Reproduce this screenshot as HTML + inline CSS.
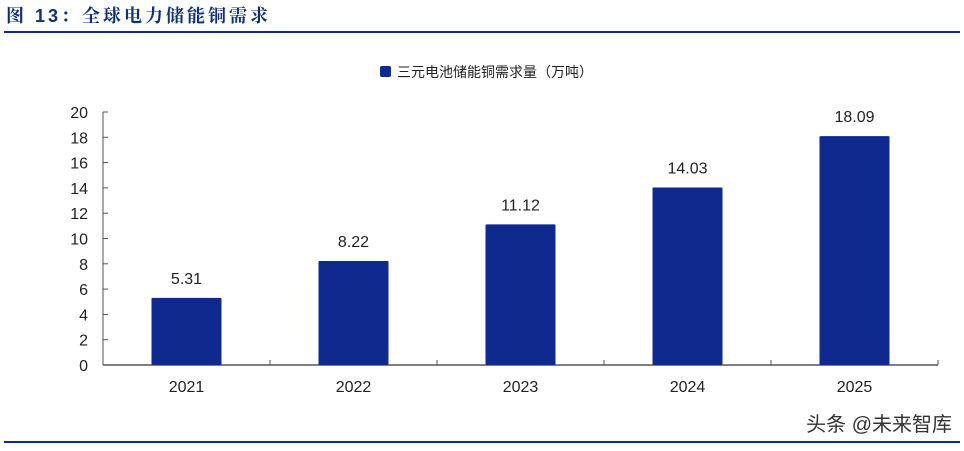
<!DOCTYPE html>
<html><head><meta charset="utf-8"><style>
body{margin:0;width:964px;height:446px;background:#fff;overflow:hidden;font-family:"Liberation Sans","Noto Sans CJK SC",sans-serif;}
</style></head><body>
<svg width="964" height="446">
<text x="6" y="22" font-size="18" font-weight="bold" fill="#0d2f7e" letter-spacing="3" font-family="Liberation Sans,Noto Serif CJK SC,Noto Sans CJK SC,sans-serif">图 13：全球电力储能铜需求</text>
<rect x="4" y="31" width="956" height="2" fill="#0d2f7e"/>
<g>
<rect x="380" y="66" width="11" height="11" rx="2" fill="#10298f"/>
<text x="397" y="77" font-size="14" fill="#222">三元电池储能铜需求量（万吨）</text>
</g>
<g id="axes"></g>
<g id="bars"></g>
<text x="952" y="431" font-size="20" fill="#333" text-anchor="end">头条 @未来智库</text>
<rect x="4" y="441" width="956" height="2" fill="#0d2f7e"/>
</svg>
<script>
const categories=["2021","2022","2023","2024","2025"];
const values=[5.31,8.22,11.12,14.03,18.09];
const valueLabels=["5.31","8.22","11.12","14.03","18.09"];
const yTicks=[0,2,4,6,8,10,12,14,16,18,20];
const NS="http://www.w3.org/2000/svg";
const x0=103,x1=938,y0=365,y1=112,yMax=20;
const band=(x1-x0)/categories.length;
const y=v=>y0-(v/yMax)*(y0-y1);
const xc=i=>x0+band*(i+0.5);
function mk(tag,attrs,parent){const e=document.createElementNS(NS,tag);for(const k in attrs)e.setAttribute(k,attrs[k]);parent.appendChild(e);return e;}
const ax=document.getElementById('axes'),bg=document.getElementById('bars');
const ya=mk('line',{x1:x0,y1:y1,x2:x0,y2:y0,stroke:'#555','stroke-width':1},ax);


const xa=mk('line',{x1:x0,y1:y0,x2:x1,y2:y0,stroke:'#555','stroke-width':1.5},ax);


yTicks.forEach(t=>{
 const tk=mk('line',{x1:x0,y1:y(t),x2:x0+5,y2:y(t),stroke:'#555'},ax);
 
 
 const tx=mk('text',{x:x0-15,y:y(t)+6,'font-size':16,fill:'#222','text-anchor':'end'},ax);
 tx.textContent=t;
 
 
});
for(let i=1;i<=categories.length;i++){
 const tk=mk('line',{x1:x0+band*i,y1:y0,x2:x0+band*i,y2:y0-5,stroke:'#555'},ax);
 
 
}
const bw=70;
categories.forEach((c,i)=>{
 const r=mk('rect',{x:xc(i)-bw/2,y:y(values[i]),width:bw,height:y0-y(values[i]),fill:'#10298f',rx:1},bg);
 
 
 const vl=mk('text',{x:xc(i),y:y(values[i])-14,'font-size':16,fill:'#222','text-anchor':'middle'},bg);
 vl.textContent=valueLabels[i];
 
 
 const cl=mk('text',{x:xc(i),y:y0+27,'font-size':16,fill:'#222','text-anchor':'middle'},bg);
 cl.textContent=c;
 
 
});
</script>
</body></html>
